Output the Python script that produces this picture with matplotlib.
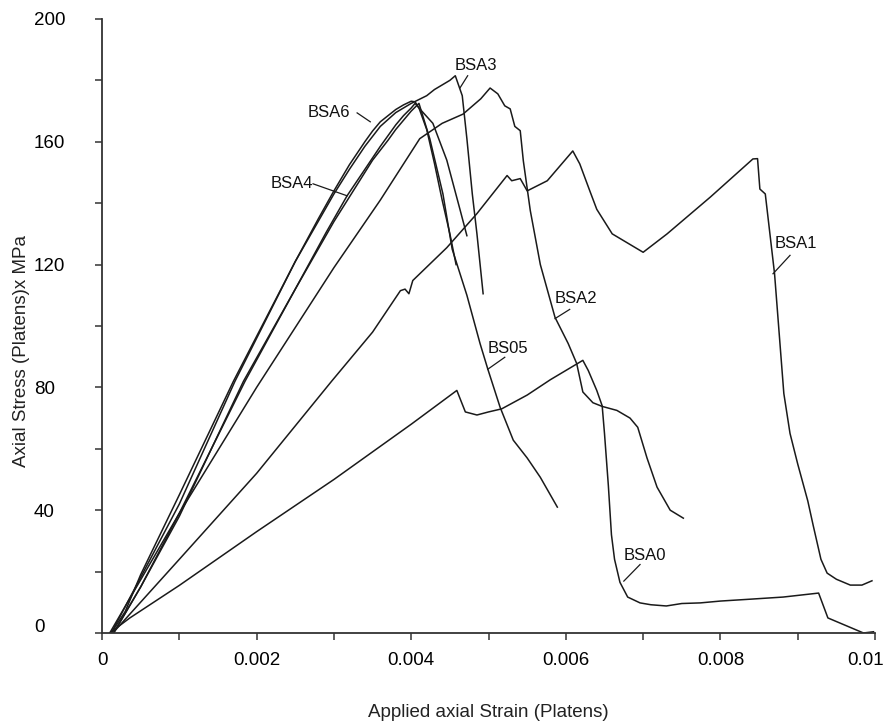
import matplotlib
matplotlib.use("Agg")
import matplotlib.pyplot as plt
import matplotlib.transforms as mtransforms
from matplotlib import font_manager as fm

# ---------------- data (strain, stress MPa) ----------------
bsa0_x = [0.0001, 0.00036, 0.0010, 0.0020, 0.0030, 0.0040, 0.00459, 0.0047, 0.00485, 0.0050,
          0.00517, 0.0055, 0.0058, 0.0060, 0.00622, 0.00629, 0.0064, 0.00647, 0.0065, 0.00655,
          0.00659, 0.00663, 0.0067, 0.0068, 0.00696, 0.0071, 0.0073, 0.0075, 0.00774, 0.0080,
          0.00838, 0.00881, 0.00927, 0.00939, 0.00985, 0.00998]
bsa0_y = [0, 4.9, 15.5, 33, 50, 68, 79, 72, 71, 72,
          73, 77.5, 82.5, 85.5, 88.8, 85.5, 79, 74, 65, 48,
          32, 24, 16.5, 11.7, 9.8, 9.2, 8.8, 9.6, 9.8, 10.4,
          11, 11.7, 13, 4.9, 0, 0.4]

bsa1_x = [0.00014, 0.001, 0.002, 0.00297, 0.0035, 0.00386, 0.00392, 0.00397, 0.00402, 0.00446,
          0.00485, 0.00524, 0.0053, 0.00541, 0.0055, 0.00576, 0.00609, 0.00618, 0.00631, 0.0064,
          0.0066, 0.0068, 0.0070, 0.00731, 0.00787, 0.00842, 0.00848, 0.00851, 0.00858, 0.0087,
          0.00876, 0.00882, 0.0089, 0.0090, 0.00913, 0.0092, 0.0093, 0.00938, 0.0095, 0.00968,
          0.00983, 0.00996]
bsa1_y = [0, 24, 52, 82, 98, 111.5, 112, 110.5, 114.8, 125.5,
          136.6, 149, 147.3, 148, 144, 147.3, 157, 152.8, 144, 138,
          130, 127, 124, 130, 142, 154.4, 154.5, 144.6, 143, 117,
          97.5, 78, 65, 55, 43, 35, 24, 19.5, 17.5, 15.6,
          15.6, 17]

bsa2_x = [0.0001, 0.001, 0.002, 0.003, 0.0036, 0.00411, 0.0044, 0.00467, 0.0049, 0.00502,
          0.00512, 0.00521, 0.00528, 0.00534, 0.00541, 0.00545, 0.00554, 0.00567, 0.00586, 0.00603,
          0.00614, 0.00622, 0.00635, 0.00647, 0.00666, 0.00683, 0.00693, 0.00705, 0.00718, 0.00735,
          0.00752]
bsa2_y = [0, 39, 80, 119, 141, 161, 166, 169, 174, 177.5,
          175.6, 171.7, 170.7, 165, 163.6, 153.8, 137.6, 120, 102.8, 94.3,
          87.8, 78.5, 75, 73.8, 72.5, 70, 67, 57, 47.5, 40,
          37.4]

bsa3_x = [0.00012, 0.001, 0.00172, 0.0025, 0.003, 0.0032, 0.0034, 0.0036, 0.0038, 0.004,
          0.0042, 0.0043, 0.0044, 0.0045, 0.00457, 0.00466, 0.00472, 0.00479, 0.00485, 0.00493]
bsa3_y = [0, 42, 82, 121, 143, 151, 158.5, 165, 169.5, 172.5,
          175, 177, 178.5, 180, 181.5, 175, 161, 143, 130, 110.5]

bsa4_x = [0.00015, 0.0005, 0.001, 0.00185, 0.0025, 0.0029, 0.00317, 0.0034, 0.0036, 0.0037,
          0.0038, 0.0039, 0.0040, 0.00405, 0.0041, 0.00428, 0.00446, 0.00463, 0.00472]
bsa4_y = [0, 15, 39, 82, 112, 130.5, 142.4, 151, 158.5, 162,
          165.5, 168.5, 171, 172.5, 171, 166, 154, 138, 129.4]

bsa6_x = [0.00012, 0.0003, 0.0005, 0.001, 0.0017, 0.0025, 0.0028, 0.003, 0.0032, 0.0034,
          0.0035, 0.0036, 0.0037, 0.0038, 0.0039, 0.004, 0.00405, 0.0041, 0.0042, 0.0043,
          0.0044, 0.0045, 0.00458]
bsa6_y = [0, 7, 19, 45, 82, 121, 135, 144, 152.5, 160,
          163.5, 166.5, 168.5, 170.5, 172, 173.2, 173, 171, 164, 153,
          141, 130, 120]

bs05_x = [0.00015, 0.0005, 0.001, 0.00183, 0.0025, 0.003, 0.0033, 0.0035, 0.0037, 0.0038,
          0.0039, 0.004, 0.0041, 0.00424, 0.00441, 0.00453, 0.00472, 0.00489, 0.00499, 0.00515,
          0.00532, 0.0055, 0.00567, 0.00589]
bs05_y = [0, 15, 38, 82, 112, 134, 146, 154, 160.5, 164,
          167, 170, 172.5, 161, 143, 125, 110, 94.3, 86, 73.5,
          62.8, 57, 50.7, 41]

# label text, text position, leader start, leader end
label_names = ["BSA0", "BSA1", "BSA2", "BSA3", "BSA4", "BSA6", "BS05"]
label_pos = [(0.00702, 25.4), (0.00898, 126.8), (0.00613, 109), (0.00483, 184.7),
             (0.00245, 146.3), (0.00294, 169.4), (0.00525, 92.7)]
leader_from = [(0.00696, 22.3), (0.0089, 123), (0.00605, 105.4), (0.00473, 181.5),
               (0.00273, 146.3), (0.0033, 169.4), (0.00521, 89.8)]
leader_to = [(0.00675, 16.9), (0.00868, 117), (0.00586, 102.4), (0.00463, 177.5),
             (0.00317, 142.4), (0.00347, 166.5), (0.00499, 85.9)]

x_ticks = [0, 0.002, 0.004, 0.006, 0.008, 0.01]
x_ticklabels = ["0", "0.002", "0.004", "0.006", "0.008", "0.01"]
y_ticks = [0, 40, 80, 120, 160, 200]
y_ticklabels = ["0", "40", "80", "120", "160", "200"]

# ---------------- fonts ----------------
names = {f.name for f in fm.fontManager.ttflist}
narrow = "Liberation Sans Narrow" if "Liberation Sans Narrow" in names else "Liberation Sans"
regular = "Liberation Sans"
tick_size = 14.5 if narrow == "Liberation Sans Narrow" else 13.5
axlab_size = 16 if narrow == "Liberation Sans Narrow" else 13.5

fig = plt.figure(figsize=(8.91, 7.23), dpi=100)
ax = fig.add_axes([0.1145, 0.1245, 0.8676, 0.8493])

lc = "#1a1a1a"
for xs, ys in [(bsa0_x, bsa0_y), (bsa1_x, bsa1_y), (bsa2_x, bsa2_y), (bsa3_x, bsa3_y),
               (bsa4_x, bsa4_y), (bsa6_x, bsa6_y), (bs05_x, bs05_y)]:
    ax.plot(xs, ys, color=lc, lw=1.1, solid_joinstyle="round")

for name, tp, lf, lt in zip(label_names, label_pos, leader_from, leader_to):
    ax.plot([lf[0], lt[0]], [lf[1], lt[1]], color=lc, lw=0.9)
    ax.text(tp[0], tp[1], name, ha="center", va="center", fontsize=12,
            family=regular, color="#111111")

ax.set_xlim(0, 0.01)
ax.set_ylim(0, 200)
for s in ["top", "right"]:
    ax.spines[s].set_visible(False)
for s in ["left", "bottom"]:
    ax.spines[s].set_color("#333333")
    ax.spines[s].set_linewidth(1.3)

ax.set_xticks(x_ticks)
ax.set_xticklabels(x_ticklabels, family=narrow, fontsize=tick_size)
ax.set_xticks([0.001, 0.003, 0.005, 0.007, 0.009], minor=True)
ax.set_yticks(y_ticks)
ax.set_yticklabels(y_ticklabels, family=narrow, fontsize=tick_size, ha="left")
ax.set_yticks([20, 60, 100, 140, 180], minor=True)
ax.tick_params(axis="both", which="both", direction="out", length=5, width=1.1, color="#333333")
ax.tick_params(axis="x", which="major", pad=9)
ax.tick_params(axis="y", which="major", pad=44)

# nudge the last x tick label inward so it stays inside the figure
last = ax.get_xticklabels()[-1]
last.set_transform(last.get_transform() +
                   mtransforms.ScaledTranslation(-9 / 100, 0, fig.dpi_scale_trans))
# the "0" y label sits slightly above its tick in the reference
first = ax.get_yticklabels()[0]
first.set_transform(first.get_transform() +
                    mtransforms.ScaledTranslation(0, 7 / 100, fig.dpi_scale_trans))

ax.set_xlabel("Applied axial Strain (Platens)", family=narrow, fontsize=axlab_size,
              color="#222222", labelpad=24)
ax.set_ylabel("Axial Stress (Platens)x MPa", family=narrow, fontsize=axlab_size,
              color="#222222", labelpad=6)
ax.xaxis.set_label_coords(0.5, -0.115)
ax.yaxis.set_label_coords(-0.093, 0.46)

fig.savefig("out.png", dpi=100)
